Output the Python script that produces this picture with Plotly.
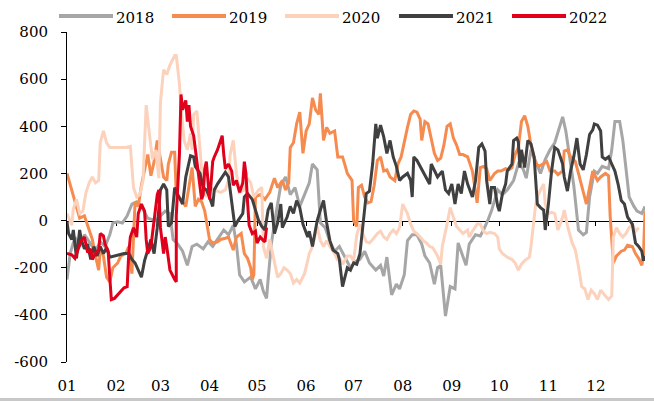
import plotly.graph_objects as go

# ---- axis labels ----
months = ["01", "02", "03", "04", "05", "06", "07", "08", "09", "10", "11", "12"]
month_days = [0, 31, 59, 90, 120, 151, 181, 212, 243, 273, 304, 334]
y_ticks = [-600, -400, -200, 0, 200, 400, 600, 800]
y_labels = [str(v) for v in y_ticks]

# ---- series (day of year, value) ----
d2018 = [0, 2, 5, 8, 11, 15, 18, 21, 24, 27,
         29, 32, 35, 38, 41, 44, 47, 51, 56, 59,
         62, 65, 67, 70, 73, 76, 79, 82, 86, 89,
         92, 95, 99, 102, 105, 107, 109, 112, 116, 119,
         122, 124, 126, 127, 129, 132, 135, 138, 141, 144,
         147, 150, 153, 155, 158, 160, 163, 166, 169, 172,
         176, 179, 182, 185, 188, 191, 195, 198, 200, 202,
         205, 208, 210, 213, 215, 218, 221, 224, 226, 229,
         232, 234, 236, 239, 242, 245, 247, 249, 252, 254,
         258, 261, 263, 266, 268, 272, 275, 278, 282, 285,
         288, 290, 293, 296, 299, 302, 305, 308, 311, 313,
         315, 318, 320, 323, 326, 328, 330, 333, 335, 338,
         342, 344, 346, 349, 351, 353, 355, 358, 360, 363,
         365]
v2018 = [-250, -140, -70, -110, -60, -100, -130, -90, -110, -60,
         -10, -5, -10, 20, 70, 80, 60, 10, 0, 20,
         40, 30, -80, -100, -130, -190, -110, -100, -120, -90,
         -110, -80, -40, -60, -20, -100, -230, -260, -240, -290,
         -250, -300, -330, -250, -100, 30, 150, 185, 110, 140,
         60, 110, 160, 240, 215, -10, -30, -90, -130, -110,
         -160, -200, -175, -165, -130, -180, -210, -190, -235, -155,
         -315, -270, -290, -230, -85, -60, -60, -100, -150, -180,
         -270, -200, -190, -405, -280, -290, -95, -130, -190, -100,
         -60, -65, -40, 5, 40, 130, 110, 130, 170, 240,
         220, 180, 300, 250, 200, 260, 300, 330, 400, 440,
         380, 250, 150, -40, -60, -50, 100, 210, 200, 230,
         220, 300, 420, 420, 340, 220, 100, 60, 40, 30,
         60]

d2019 = [0, 2, 4, 6, 8, 11, 13, 16, 18, 20,
         21, 23, 25, 27, 29, 32, 34, 37, 39, 41,
         43, 45, 47, 49, 51, 53, 55, 57, 59, 61,
         63, 64, 66, 68, 69, 72, 75, 77, 79, 81,
         83, 85, 87, 90, 92, 95, 97, 100, 102, 105,
         107, 110, 112, 114, 116, 117, 118, 119, 122, 125,
         128, 131, 133, 136, 138, 140, 141, 143, 145, 147,
         149, 151, 153, 155, 157, 159, 160, 162, 164, 166,
         169, 171, 174, 176, 177, 180, 181, 183, 184, 186,
         188, 190, 192, 194, 196, 198, 200, 202, 204, 207,
         209, 211, 213, 215, 217, 219, 221, 223, 224, 226,
         228, 230, 232, 234, 236, 238, 240, 242, 244, 246,
         248, 250, 253, 254, 256, 259, 261, 263, 265, 267,
         270, 272, 274, 277, 279, 281, 283, 285, 287, 289,
         291, 293, 296, 298, 301, 303, 305, 308, 310, 313,
         314, 316, 318, 321, 323, 326, 328, 330, 332, 335,
         337, 340, 342, 343, 345, 347, 350, 352, 354, 357,
         359, 361, 363, 364, 365]
v2019 = [200, 150, 100, 50, 10, 20, -20, -80, -150, -210,
         -120, -150, -240, -260, -200, -180, -150, -140, -110, -225,
         80, 60, 150, 220, 280, 190, 250, 340, 270, 185,
         170, 240, 290, 290, 110, 90, 60, 150, 225, 60,
         90, 80, 40, -80, -95, -90, -80, -75, -70, -125,
         -70, -55, -140, -160, -200, -250, -230, 100, 110, 90,
         120, 180, 140, 170, 130, 160, 310, 330, 410, 460,
         285, 380, 410, 520, 470, 450, 540, 340, 395, 370,
         380, 270, 270, 225, 200, 170, 0, -25, 140, 150,
         100, 75, 80, 150, 255, 270, 210, 215, 185, 170,
         240, 270, 340, 395, 450, 465, 460, 430, 340, 420,
         410, 350, 285, 255, 265, 320, 400, 410, 350, 320,
         280, 280, 270, 250, 210, 75, 225, 230, 220, 170,
         200, 210, 210, 220, 215, 225, 280, 310, 420, 445,
         400, 320, 240, 230, 240, 250, 210, 210, 195, 210,
         295, 300, 270, 250, 200, 120, 70, 140, 210, 170,
         185, 200, 190, 20, -180, -150, -130, -125, -105, -110,
         -140, -160, -190, -150, 40]

d2020 = [0, 3, 4, 6, 8, 10, 12, 14, 16, 18,
         20, 21, 23, 25, 27, 30, 33, 37, 40, 42,
         44, 46, 48, 50, 52, 54, 56, 58, 59, 61,
         63, 65, 68, 69, 71, 72, 74, 76, 78, 79,
         80, 82, 84, 86, 88, 91, 93, 97, 100, 102,
         103, 105, 107, 109, 112, 114, 116, 118, 121, 123,
         124, 126, 128, 130, 133, 135, 137, 139, 141, 143,
         145, 147, 150, 152, 153, 155, 156, 158, 160, 162,
         164, 166, 169, 171, 172, 174, 177, 179, 181, 183,
         185, 187, 189, 191, 193, 196, 198, 200, 202, 204,
         206, 208, 210, 212, 215, 217, 219, 221, 223, 225,
         227, 229, 231, 234, 236, 237, 240, 242, 244, 246,
         248, 250, 253, 254, 256, 259, 261, 263, 265, 267,
         270, 272, 273, 275, 278, 281, 283, 285, 287, 289,
         292, 293, 296, 297, 299, 301, 302, 304, 306, 308,
         310, 313, 314, 316, 319, 321, 323, 325, 327, 329,
         331, 333, 335, 337, 340, 342, 344, 345, 347, 349,
         351, 353, 355, 357, 359, 361]
v2020 = [30, -20, 50, 90, 30, 40, 120, 160, 185, 160,
         170, 330, 380, 330, 310, 310, 310, 310, 315, 140,
         100, 110, 170, 490, 370, 260, 300, 180, 500, 640,
         620, 660, 700, 700, 580, 480, 340, 300, 370, 300,
         450, 465, 300, 140, 100, 140, 130, 120, 130, 170,
         280, 340, 200, 120, 130, 180, 160, 100, 130, 140,
         -110, -160, -80, -150, -240, -225, -200, -210, -225, -265,
         -250, -265, -225, -170, -140, -110, -80, -25, -85, -110,
         -85, -110, -140, -170, -155, -185, -150, -150, -170, -60,
         -15, -60, -90, -95, -80, -55, -45, -70, -80, -55,
         -40, -55, -30, 70, 30, -15, -45, -55, -70, -85,
         -95, -110, -115, -150, -185, -110, -15, 55, 15, -25,
         -40, -55, -40, -70, -45, -15, -15, -45, -55, -50,
         -55, -70, -120, -140, -155, -165, -180, -210, -185, -170,
         -155, -110, 70, 100, 130, 155, 70, 30, 35, 30,
         -40, 15, 45, -20, -95, -125, -195, -280, -290, -335,
         -295, -310, -335, -295, -320, -335, -320, -70, -30, -55,
         -70, -55, -30, -15, -45, -30]

d2021 = [0, 1, 3, 4, 5, 6, 8, 9, 11, 13,
         15, 17, 19, 21, 23, 25, 27, 30, 33, 36,
         39, 41, 43, 45, 47, 49, 51, 53, 55, 57,
         59, 61, 63, 64, 66, 68, 70, 73, 75, 76,
         78, 80, 81, 84, 86, 88, 90, 92, 93, 95,
         98, 100, 102, 104, 106, 108, 111, 112, 114, 117,
         119, 121, 123, 125, 127, 129, 131, 133, 135, 136,
         139, 141, 143, 145, 147, 149, 152, 153, 155, 158,
         160, 162, 164, 166, 168, 171, 172, 174, 177, 179,
         181, 183, 185, 187, 189, 191, 193, 195, 196, 198,
         200, 202, 204, 206, 208, 210, 212, 215, 217, 218,
         219, 221, 223, 225, 227, 229, 230, 232, 234, 237,
         239, 241, 243, 245, 247, 249, 251, 253, 256, 258,
         260, 262, 264, 265, 267, 268, 270, 272, 273, 275,
         277, 278, 281, 282, 284, 285, 286, 287, 289, 291,
         293, 295, 296, 297, 299, 301, 302, 304, 306, 308,
         310, 313, 314, 316, 318, 320, 322, 324, 326, 328,
         330, 332, 333, 335, 337, 338, 340, 342, 344, 346,
         348, 350, 352, 354, 357, 359, 361, 363, 364, 365]
v2021 = [-5, -55, -80, -40, -100, -160, -40, -80, -120, -100,
         -165, -110, -150, -110, -140, -115, -155, -150, -145, -140,
         -140, -165, -180, -210, -240, -170, -130, -80, -140, -30,
         130, 155, 130, -25, -10, 140, 110, 70, 185, 220,
         275, 270, 230, 200, 140, 130, 100, 60, 130, 155,
         185, 205, 185, 70, -25, 0, 30, 100, 115, 90,
         45, 0, -25, -40, 45, 75, -55, -10, 70, -30,
         15, 60, 30, 85, 55, -15, -70, -45, -110, 0,
         45, 85, -10, -85, -125, -140, -165, -280, -200, -210,
         -180, -185, -140, -15, 115, 125, 240, 410, 350, 405,
         355, 285, 340, 270, 230, 170, 185, 200, 170, 100,
         270, 255, 230, 210, 185, 155, 240, 210, 185, 210,
         130, 115, 155, 70, 155, 115, 210, 155, 100, 170,
         310, 325, 295, 170, 70, 140, 140, 60, 40, 115,
         155, 210, 240, 340, 350, 335, 225, 300, 225, 340,
         325, 270, 180, 70, 55, 45, -40, 70, 210, 310,
         300, 240, 185, 125, 210, 270, 350, 240, 215, 280,
         365, 385, 410, 405, 380, 270, 260, 270, 240, 210,
         155, 85, 70, 15, -15, -95, -110, -130, -170, -150]

d2022 = [0, 3, 5, 8, 9, 11, 12, 13, 15, 16,
         18, 20, 21, 23, 24, 26, 27, 28, 30, 33,
         36, 38, 39, 40, 42, 44, 45, 47, 49, 50,
         51, 53, 55, 57, 58, 59, 61, 62, 63, 65,
         68, 69, 69, 71, 72, 73, 75, 76, 77, 78,
         80, 81, 82, 83, 85, 86, 87, 88, 90, 91,
         92, 93, 95, 97, 98, 99, 100, 102, 104, 105,
         107, 109, 111, 112, 113, 114, 115, 117, 119, 120,
         122, 124, 125, 126]
v2022 = [-140, -145, -160, -110, -85, -70, -110, -135, -120, -165,
         -140, -125, -55, -65, -100, -130, -240, -335, -330, -305,
         -285, -280, -140, -70, -30, -70, 30, 70, 40, -80,
         -140, -110, -10, 110, 130, -30, -140, -70, -110, -210,
         -250, -260, 20, 280, 535, 470, 510, 420, 490, 400,
         360, 310, 260, 190, 90, 110, 220, 250, 90, 160,
         250, 270, 300, 340, 360, 280, 220, 240, 210, 150,
         170, 120, 160, 250, 200, 80, -20, -55, -45, -95,
         -70, -85, -90, -30]

series = [
    ("2018", d2018, v2018, "#a6a6a6"),
    ("2019", d2019, v2019, "#f68b50"),
    ("2020", d2020, v2020, "#fcd2bd"),
    ("2021", d2021, v2021, "#404040"),
    ("2022", d2022, v2022, "#e0001b"),
]

SERIF = dict(family="DejaVu Serif", size=15, color="black")

fig = go.Figure()

# carrier for the helper axes (zero-line axis and short y ticks), invisible
fig.add_trace(go.Scatter(x=[0, 365], y=[0, 0], xaxis="x2", yaxis="y2", mode="lines",
                         line=dict(width=1, color="rgba(0,0,0,0)"),
                         showlegend=False, hoverinfo="skip"))

for name, d, v, c in series:
    fig.add_trace(go.Scatter(x=d, y=v, mode="lines", name=name,
                             line=dict(color=c, width=3),
                             showlegend=False, hoverinfo="skip"))

# custom legend (long line samples like the reference)
shapes = []
annotations = []
leg_line_x0 = [-8, 105, 218, 332, 445]   # pixels from plot-area left edge
for (name, d, v, c), lx in zip(series, leg_line_x0):
    shapes.append(dict(type="line", xref="paper", yref="paper",
                       xanchor=0, xsizemode="pixel", x0=lx, x1=lx + 54,
                       yanchor=1, ysizemode="pixel", y0=16, y1=16,
                       line=dict(color=c, width=4)))
    annotations.append(dict(text=name, showarrow=False,
                            xref="paper", x=0, xshift=lx + 55, xanchor="left",
                            yref="paper", y=1, yshift=14, yanchor="middle",
                            font=SERIF))

# thin grey band at the very bottom of the picture
shapes.append(dict(type="rect", xref="paper", yref="paper",
                   x0=-0.2, x1=1.2, yanchor=0, ysizemode="pixel", y0=-36, y1=-40,
                   fillcolor="#c8c8c8", line=dict(width=0)))

fig.update_layout(
    template="none",
    width=654, height=401,
    margin=dict(l=67, r=9, t=32, b=39, autoexpand=False),
    paper_bgcolor="white", plot_bgcolor="white",
    font=SERIF,
    showlegend=False,
    hovermode=False,
    xaxis=dict(range=[0, 365], tickmode="array", tickvals=month_days, ticktext=months,
               automargin=False,
               showline=False, showgrid=False, zeroline=False,
               ticks="outside", ticklen=10, tickcolor="rgba(0,0,0,0)",
               tickfont=SERIF),
    yaxis=dict(range=[-600, 800], tickmode="array", tickvals=y_ticks, ticktext=y_labels,
               automargin=False,
               showline=False, showgrid=False, zeroline=False,
               ticks="outside", ticklen=15, tickcolor="rgba(0,0,0,0)",
               tickfont=SERIF),
    yaxis2=dict(overlaying="y", side="left", anchor="x", range=[-600, 800],
                automargin=False,
                tickmode="array", tickvals=y_ticks, showticklabels=False,
                showline=True, linecolor="black", linewidth=1,
                ticks="outside", ticklen=5, tickcolor="black", tickwidth=1,
                showgrid=False, zeroline=False),
    xaxis2=dict(overlaying="x", anchor="free", position=600 / 1400, range=[0, 365],
                automargin=False,
                tickmode="array", tickvals=month_days, showticklabels=False,
                showline=True, linecolor="black", linewidth=1.5,
                ticks="outside", ticklen=4, tickcolor="black", tickwidth=1,
                showgrid=False, zeroline=False, layer="below traces"),
    shapes=shapes,
    annotations=annotations,
)

# remove the default page margin so the figure sits at the window's top-left corner
fig.write_html("out.html",
               config={"displayModeBar": False, "staticPlot": True},
               post_script="document.body.style.margin='0';document.body.style.overflow='hidden';")
